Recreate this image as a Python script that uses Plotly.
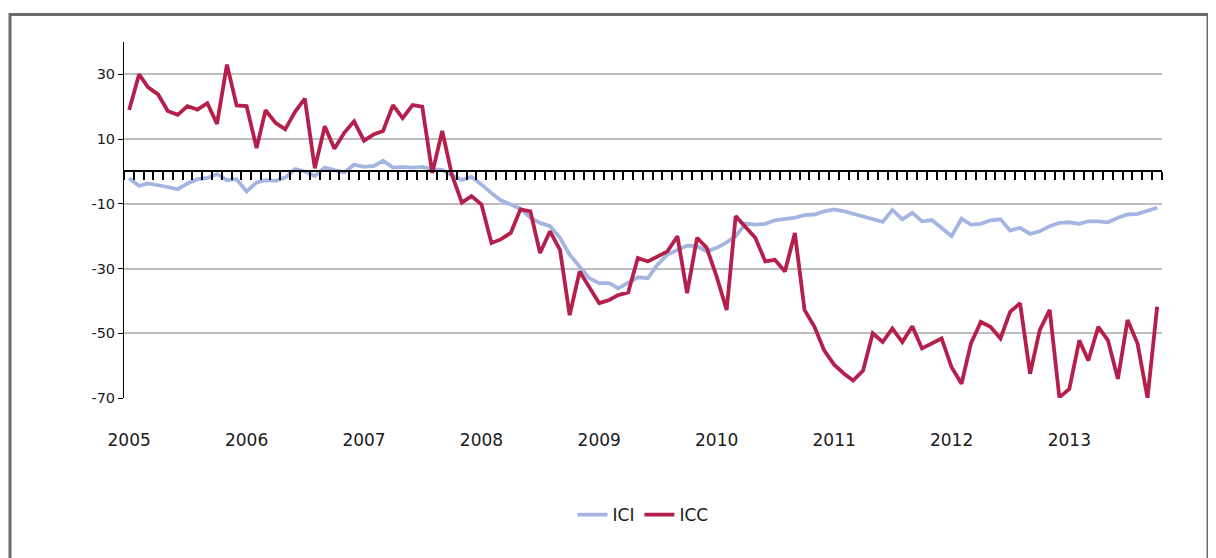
import plotly.graph_objects as go
import pandas as pd

# monthly data, Jan 2005 - Oct 2013
months = pd.date_range('2005-01-01', periods=106, freq='MS')

ici = [-2.1, -4.5, -3.7, -4.2, -4.8, -5.5, -3.7, -2.4, -2.1, -0.8, -2.7, -2.4, -6.2, -3.4, -2.7,
       -2.9, -1.9, 0.7, 0, -1.4, 1.2, 0.4, -0.3, 2.1, 1.4, 1.7, 3.3, 1.2, 1.4, 1.2,
       1.4, 0.7, 0.5, -1.2, -2.6, -1.7, -4, -6.7, -8.9, -10.2, -11.5, -14.3, -15.9, -16.9,
       -20.5, -25.7, -29.4, -33, -34.5, -34.5, -36.1, -34.5, -32.7, -33, -28.8, -25.7, -24.4, -22.9, -23.1,
       -24.7, -23.6, -21.9, -20, -16.1, -16.4, -16.2, -15.1, -14.8, -14.3, -13.5, -13.3, -12.3, -11.7,
       -12.3, -13, -13.8, -14.8, -15.6, -11.9, -14.8, -12.8, -15.4, -15, -17.4, -20, -14.6, -16.4, -16.2,
       -15.1, -14.8, -18.3, -17.4, -19.3, -18.5, -16.9, -15.9, -15.7, -16.2, -15.4, -15.4, -15.7, -14.3,
       -13.3, -13.1, -12, -11.2]

icc = [19, 30, 26, 23.8, 18.7, 17.5, 20.2, 19.1, 21.1, 14.7, 33, 20.4, 20.2, 7.2, 18.9,
       15, 13, 18.5, 22.5, 1, 14, 7, 12, 15.5, 9.5, 11.5, 12.5, 20.5, 16.5, 20.5, 20, -0.5, 12.5, -1,
       -9.6, -7.6, -10.2, -22.1, -21, -19, -11.7, -12.3, -25.2, -18.5,
       -24.2, -44.4, -30.9, -36, -40.7, -39.7, -38.2, -37.4, -26.7, -27.8, -26.2, -24.7, -20, -37.6, -20.5,
       -23.6, -32.5, -42.8, -13.8, -17.4, -20.5, -27.8, -27.3, -30.9, -19, -42.8, -48, -55.3, -59.7,
       -62.5, -64.6, -61.5, -50, -52.7, -48.5, -52.7, -47.8, -54.7, -53.2, -51.6, -60.5, -65.6, -53.2, -46.5, -48,
       -51.6, -43.4, -40.7, -62.5, -49, -42.8, -69.8, -67.2, -52.2, -58.4, -48, -52.2, -64.1, -45.9, -53.2, -70, -41.8]

years = list(range(2005, 2014))
y_ticks = [-70, -50, -30, -10, 10, 30]

x_range = ['2004-12-16', '2013-10-16']
font = 'DejaVu Sans'

# page has an 8px body margin, so the figure is laid out in its own coordinates
W, H = 1208, 550
L, R, T, B = 116, 54, 34, 160
pw, ph = W - L - R, H - T - B

fig = go.Figure()
fig.add_trace(go.Scatter(x=months, y=ici, name='ICI', mode='lines',
                         line=dict(color='#A4B5E1', width=3.8)))
fig.add_trace(go.Scatter(x=months, y=icc, name='ICC', mode='lines',
                         line=dict(color='#B51F4B', width=3.8)))
# invisible copy so the month-tick axis on the zero line gets drawn
fig.add_trace(go.Scatter(x=months, y=ici, xaxis='x2', mode='lines', opacity=0,
                         showlegend=False, hoverinfo='skip'))

fig.update_layout(
    width=W, height=H,
    margin=dict(l=L, r=R, t=T, b=B),
    paper_bgcolor='white', plot_bgcolor='white',
    font=dict(family=font, color='#1a1a1a'),
    xaxis=dict(type='date', range=x_range,
               tickvals=[f'{y}-01-01' for y in years], ticktext=[str(y) for y in years],
               showgrid=False, showline=False, zeroline=False, ticks='',
               ticklabelstandoff=30, tickfont=dict(size=17)),
    # month ticks along the zero line
    xaxis2=dict(type='date', range=x_range, overlaying='x', anchor='free',
                position=70 / 110, side='bottom',
                tick0='2004-12-16', dtick='M1', ticks='outside', ticklen=8,
                tickwidth=1.5, tickcolor='black', showticklabels=False,
                showline=True, linecolor='black', linewidth=1.5, showgrid=False),
    yaxis=dict(range=[-70, 40], tickvals=y_ticks, ticktext=[str(v) for v in y_ticks],
               showgrid=True, gridcolor='#BEBEBE', gridwidth=1.5,
               showline=True, linecolor='black', linewidth=1,
               ticks='outside', ticklen=5, tickcolor='black', zeroline=False,
               tickfont=dict(size=14.5)),
    legend=dict(orientation='h', x=0.5, xanchor='center', y=-0.329, yanchor='middle',
                font=dict(size=17)),
    showlegend=True,
)

# gray frame around the chart
fig.add_shape(type='rect', xref='paper', yref='paper',
              x0=(2 - L) / pw, x1=(1200 - L) / pw,
              y0=-0.6, y1=(T + ph - 6.5) / ph,
              line=dict(color='#6B6B6B', width=3), layer='below')

fig.write_html('out.html')
